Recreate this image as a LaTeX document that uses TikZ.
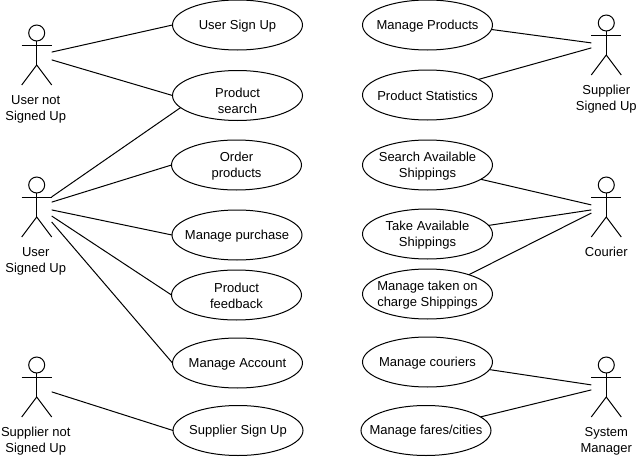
\documentclass[tikz,border=0pt]{standalone}
\usepackage{fontspec}
\setmainfont{Liberation Sans}
\usetikzlibrary{positioning,shapes.geometric}

\tikzset{
  usecase/.style={draw, ellipse, minimum width=97.5pt, minimum height=37.5pt, inner xsep=-30pt, inner ysep=-10pt, outer sep=0pt, align=center, text height=8.5pt},
  twolines/.style={usecase, text height=21pt},
  actorbox/.style={minimum width=22.5pt, minimum height=45pt, inner sep=0pt, outer sep=0pt},
  actorlabel/.style={align=center, inner sep=0pt}
}

\begin{document}
\begin{tikzpicture}[x=0.75pt, y=-0.75pt, line width=0.75pt, font=\fontsize{9.75}{12}\selectfont]
    \useasboundingbox (0,0) rectangle (637,457);

    % actors
    \foreach \name/\x/\y/\dx/\txt in {
        usernot/36.7/55/-0.7/{User not\\Signed Up},
        usersigned/36.7/207/-0.7/{User\\Signed Up},
        suppliernot/36.7/387/-0.7/{Supplier not\\Signed Up},
        suppliersigned/606.3/45/0/{Supplier\\Signed Up},
        courier/606.3/207/0/{Courier},
        sysmanager/606.3/387/0/{System\\Manager}} {
        \node[actorbox] (\name) at (\x,\y) {};
        \node[actorlabel, below=7.5pt of \name, xshift=\dx pt] (\name label) {\txt};
        \begin{scope}[shift={(\x,\y)}]
            \draw (0,-22) circle (6pt);
            \draw (0,-14) -- (0,10);
            \draw (-15,-10) -- (15,-10);
            \draw (-15,30) -- (0,10) -- (15,30);
        \end{scope}
    }

    % use cases, left column
    \node[usecase] (signup) at (237.5,25) {User Sign Up};
    \node[twolines, text height=27pt] (search) at (237.5,95.5) {Product\\search};
    \node[twolines] (order) at (236.5,165) {Order\\products};
    \node[usecase] (purchase) at (237,235) {Manage purchase};
    \node[twolines] (feedback) at (236.5,295) {Product\\feedback};
    \node[usecase] (account) at (237.5,363) {Manage Account};
    \node[usecase] (suppliersignup) at (238,430.5) {Supplier Sign Up};

    % use cases, right column
    \node[usecase] (products) at (427.5,25) {Manage Products};
    \node[usecase] (statistics) at (427.5,95) {Product Statistics};
    \node[twolines] (available) at (427.5,165) {Search Available\\Shippings};
    \node[twolines] (take) at (427.5,234) {Take Available\\Shippings};
    \node[twolines] (taken) at (427.5,294) {Manage taken on\\charge Shippings};
    \node[usecase] (couriers) at (427.5,362) {Manage couriers};
    \node[usecase] (fares) at (426,430.5) {Manage fares/cities};

    % connectors
    \draw (usernot.11) -- (signup.west);
    \draw (usernot.-18) -- (search.west);
    \draw (usersigned.34) -- (search.192);
    \draw (usersigned.18) -- (order.west);
    \draw (usersigned.-11) -- (purchase.west);
    \draw (usersigned.-31) -- (feedback.west);
    \draw (usersigned.-45) -- (account.west);
    \draw (suppliernot.-18) -- (suppliersignup.west);

    \draw (products.-4) -- (suppliersigned.172);
    \draw (statistics.17) -- (suppliersigned.191);
    \draw (available.-15) -- (courier.172);
    \draw (take.8) -- (courier.191);
    \draw (taken.25) -- (courier.202);
    \draw (couriers.-7) -- (sysmanager.172);
    \draw (fares.14) -- (sysmanager.191);
\end{tikzpicture}
\end{document}
